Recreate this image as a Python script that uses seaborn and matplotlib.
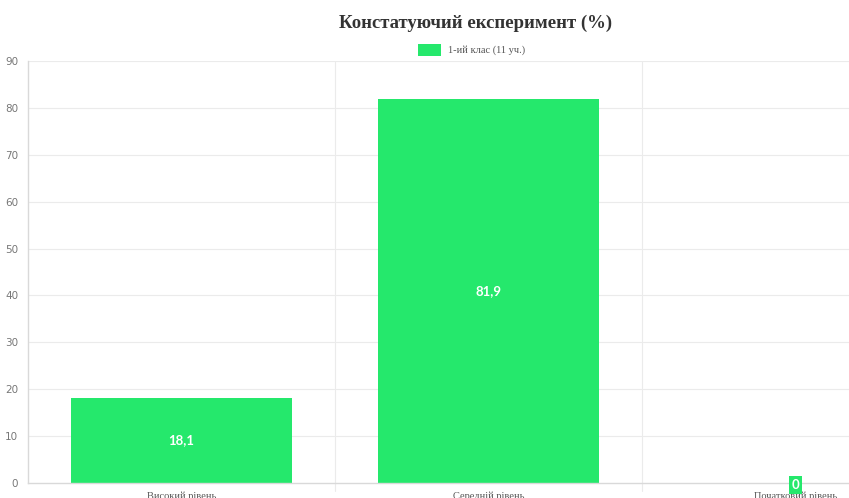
import matplotlib
matplotlib.use("Agg")
import matplotlib.pyplot as plt
import seaborn as sns
import pandas as pd

categories = ["Високий рівень", "Середній рівень", "Початковий рівень"]
values = [18.1, 81.9, 0]
series_name = "1-ий клас (11 уч.)"
title = "Констатуючий експеримент (%)"
y_ticks = [0, 10, 20, 30, 40, 50, 60, 70, 80, 90]

sns.set_theme(style="white")
plt.rcParams['font.family'] = ['DejaVu Sans']

GREEN = "#25e86c"
W, H = 849, 498
fig = plt.figure(figsize=(W / 100, H / 100), dpi=100)
ax = fig.add_axes([28 / W, 15 / H, 921 / W, 422 / H])

df = pd.DataFrame({"cat": categories, "val": values, "series": series_name})
sns.barplot(data=df, x="cat", y="val", hue="series", palette=[GREEN],
            width=0.72, ax=ax, saturation=1, legend=False, edgecolor=GREEN, linewidth=0)

ax.set_xlim(-0.5, 2.5)
ax.set_ylim(0, 90)
ax.set_yticks(y_ticks)
ax.set_xlabel("")
ax.set_ylabel("")

# grid
for y in y_ticks[1:]:
    ax.axhline(y, color="#ebebeb", lw=0.8, zorder=0)
for xv in [0.5, 1.5]:
    ax.axvline(xv, color="#ebebeb", lw=0.8, zorder=0)
    ax.plot([xv, xv], [0, -1.6], color="#ebebeb", lw=0.8, clip_on=False)

for s in ["top", "right"]:
    ax.spines[s].set_visible(False)
ax.spines["left"].set_color("#d9d9d9")
ax.spines["bottom"].set_color("#d9d9d9")
ax.spines["left"].set_linewidth(1)
ax.spines["bottom"].set_linewidth(1)

ax.tick_params(axis="y", length=5, color="#d9d9d9", pad=2, labelsize=7.5, labelcolor="#777777")
ax.tick_params(axis="x", length=0, pad=6)
ax.set_xticks([0, 1, 2])
ax.set_xticklabels(categories, fontfamily="Liberation Serif", fontsize=7.5, color="#555555")

for i, v in enumerate(values):
    label = f"{v:g}".replace(".", ",")
    if v > 0:
        ax.text(i, v / 2, label, ha="center", va="center", color="white",
                fontsize=9.5, fontweight="bold", fontfamily="Lato")
    else:
        ax.text(i, -0.45, label, ha="center", va="center", color="white",
                fontsize=9.5, fontweight="bold", fontfamily="Lato", zorder=5,
                bbox=dict(boxstyle="square,pad=0.2", fc=GREEN, ec="none"))

fig.text(476 / W, 1 - 23 / H, title, ha="center", va="center",
         fontfamily="Liberation Serif", fontweight="bold", fontsize=13.5, color="#333333")

# legend
from matplotlib.patches import Rectangle
fig.patches.append(Rectangle((418 / W, 1 - 56 / H), 23 / W, 12 / H, transform=fig.transFigure,
                             facecolor=GREEN, edgecolor="none"))
fig.text(448 / W, 1 - 50 / H, series_name, ha="left", va="center",
         fontfamily="Liberation Serif", fontsize=7.5, color="#555555")

fig.savefig("out.png", dpi=100)
